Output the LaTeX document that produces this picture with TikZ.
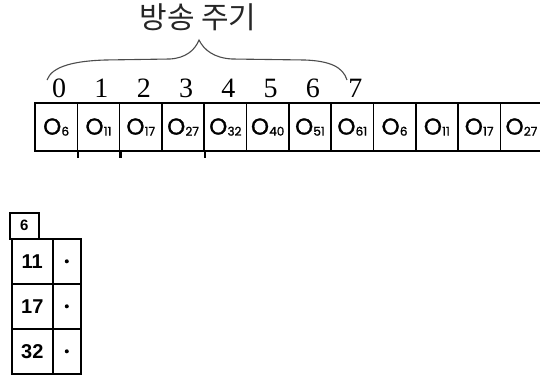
\documentclass[tikz,border=0pt]{standalone}
\usepackage{fontspec}
\setmainfont{Liberation Serif}
\newfontfamily\krfont{Noto Sans CJK KR}
\newfontfamily\cellfont{Poppins}[FakeBold=1.2]
\newfontfamily\tabfont{Liberation Sans}
\newcommand\osub[1]{O\kern0.2pt\raisebox{-1pt}{\fontsize{12}{12}\selectfont #1}}
\begin{document}
\begin{tikzpicture}[x=1pt,y=-1pt,
  cellbox/.style={draw, line width=1.6pt, minimum width=42.3pt, minimum height=48pt, inner sep=0pt, font=\cellfont\fontsize{23}{23}\selectfont},
  idx/.style={font=\fontsize{28}{28}\selectfont, inner sep=0pt, anchor=base},
  tabcell/.style={draw, line width=1.6pt, inner sep=0pt, anchor=north west, minimum height=45pt, font=\tabfont\bfseries\fontsize{20}{20}\selectfont},
  tickmark/.style={line width=2.6pt},
  bracepath/.style={draw=black!70, line width=1.1pt}]
\useasboundingbox (0,0) rectangle (540,375);
\clip (0,0) rectangle (540,375);
\node[font=\krfont\fontsize{30}{30}\selectfont, text=black!85, inner sep=0pt] (title) at (198,17) {방송 주기};
\draw[bracepath] (47,80) .. controls (52,66) and (75,61) .. (105,60) -- (170,59) .. controls (186,58) and (195,50) .. (199,40) .. controls (204,50) and (214,58) .. (232,59) -- (305,60) .. controls (330,61) and (343,67) .. (347,80);
\foreach \i/\s in {0/6,1/11,2/17,3/27,4/32,5/40,6/51,7/61,8/6,9/11,10/17,11/27}
  \node[cellbox] (c\i) at ({35+42.3*(\i+0.5)},127) {\osub{\s}};
\foreach \i in {0,...,7}
  \node[idx] (d\i) at ([xshift=3pt,yshift=5pt]c\i.north) {\i};
\draw[tickmark] (c0.south east) -- ++(0,6);
\draw[tickmark] (c1.south east) -- ++(0,6);
\draw[tickmark] (c3.south east) -- ++(0,6);
\node[tabcell, minimum width=29pt, minimum height=26pt, font=\tabfont\bfseries\fontsize{15}{15}\selectfont] (t0) at (9,212) {6};
\foreach \r/\v in {1/11,2/17,3/32} {
  \node[tabcell, minimum width=41pt] (ta\r) at (11,{238+45*(\r-1)}) {\v};
  \node[tabcell, minimum width=28pt] (tb\r) at (52,{238+45*(\r-1)}) {};
  \fill (tb\r.center) circle (2pt);
}
\end{tikzpicture}
\end{document}
